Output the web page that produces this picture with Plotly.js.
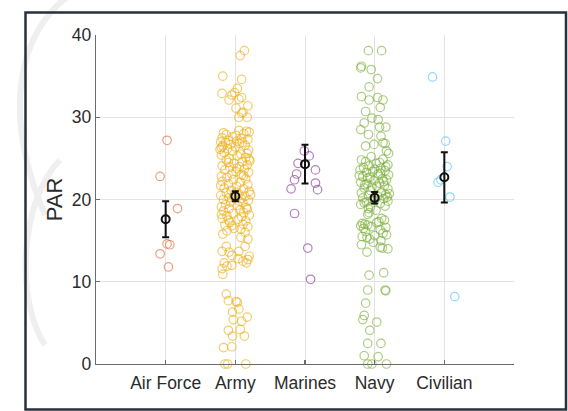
<!DOCTYPE html>
<html>
<head>
<meta charset="utf-8">
<script src="https://cdn.plot.ly/plotly-3.0.1.min.js"></script>
<style>
html,body{margin:0;padding:0;background:#fff;}
#chart{width:568px;height:411px;}
</style>
</head>
<body>
<div id="chart"></div>
<script>
// ---------- data ----------
const categories = ['Air Force', 'Army', 'Marines', 'Navy', 'Civilian'];

// [PAR value, horizontal jitter]
const airForcePoints = [[27.2,0.02],[22.8,-0.08],[18.9,0.17],[14.6,0.02],[14.5,0.06],[13.4,-0.08],[11.8,0.04]];

const armyPoints = [
 [38.1,0.13],[37.5,0.07],[35.0,-0.18],[34.6,0.09],[32.9,-0.19],[33.5,0.03],[33.0,-0.01],[32.7,-0.05],
 [32.1,-0.09],[32.4,0.09],[32.2,0.05],[31.4,0.18],[31.1,0.01],[30.6,0.11],[30.0,0.05],[30.0,0.17],[30.5,0.09],
 [28.3,0.16],[28.2,0.20],[28.4,0.05],[28.1,-0.17],[27.9,-0.13],[28.0,0.12],[27.6,-0.04],[27.5,-0.19],
 [27.4,0.09],[27.2,-0.10],[27.1,0.02],[27.0,-0.21],[26.9,-0.14],[26.8,0.06],[26.7,-0.07],[26.6,0.14],
 [26.5,-0.18],[26.4,0.00],[26.2,-0.11],[26.0,0.19],[25.9,-0.04],[25.7,-0.16],[25.5,0.08],[25.4,-0.20],
 [25.3,0.03],[25.1,0.15],[25.0,-0.09],[24.9,0.20],[24.8,-0.13],[24.6,0.10],[24.4,-0.02],[24.2,0.17],
 [24.1,-0.19],[24.0,0.06],[23.9,-0.08],[23.7,0.13],[23.6,-0.15],[23.4,0.01],[23.3,0.19],[23.1,-0.05],
 [23.0,0.09],[22.8,-0.20],[22.7,-0.12],[22.5,0.15],[22.4,-0.03],[22.2,-0.19],[22.1,0.07],[21.9,-0.10],
 [21.8,0.18],[21.6,0.02],[21.4,-0.16],[21.3,0.12],[21.1,-0.06],[21.0,0.20],[20.8,-0.13],[20.7,0.05],
 [20.5,-0.21],[20.4,0.14],[20.3,-0.02],[20.1,0.09],[20.0,-0.17],[19.9,0.19],[19.7,-0.07],[19.6,0.11],
 [19.4,-0.14],[19.3,0.03],[19.1,-0.20],[19.0,0.16],[18.9,-0.09],[18.7,0.07],[18.6,-0.17],[18.4,0.12],
 [18.3,-0.03],[18.1,0.20],[18.0,-0.12],[17.9,0.09],[17.7,-0.19],[17.6,0.04],[17.4,0.15],[17.2,-0.08],
 [17.0,0.11],[16.9,-0.15],[16.7,0.18],[16.5,-0.02],[16.4,0.08],[16.2,-0.12],[16.0,0.14],[15.8,-0.18],
 [27.3,0.18],[26.9,0.10],[26.3,-0.20],[27.8,0.01],[25.6,0.17],[24.5,-0.10],[23.8,0.02],[22.9,0.12],
 [21.7,-0.21],[20.9,0.01],[20.2,-0.09],[19.8,0.06],[18.8,0.17],[18.2,-0.20],[17.5,-0.10],[16.8,-0.05],
 [20.6,0.22],[24.7,0.21],[26.1,-0.22],
 [15.4,0.08],[15.2,0.18],[14.3,-0.13],[14.3,0.14],[13.7,-0.19],[13.6,-0.09],[13.7,0.05],[13.2,-0.05],
 [13.1,0.20],[12.8,0.04],[12.7,0.18],[12.5,0.11],[12.3,-0.16],[12.3,0.16],[12.0,-0.05],[11.9,-0.12],
 [11.6,-0.19],[10.9,-0.18],
 [8.5,-0.13],[7.7,-0.10],[7.6,0.01],[7.5,0.03],[6.7,0.05],[6.3,-0.04],[5.7,0.17],[5.4,-0.03],[5.2,0.09],
 [4.2,0.07],[4.1,-0.10],[3.4,-0.04],[3.4,0.13],[2.1,-0.05],[2.0,-0.17],[0,-0.15],[0,-0.11],[0,0.15]
];

const marinesPoints = [[25.9,-0.01],[25.3,0.06],[24.4,-0.10],[23.6,0.15],[23.1,-0.12],[22.4,-0.15],
 [22.0,0.15],[21.3,-0.20],[21.2,0.18],[18.3,-0.15],[14.1,0.04],[10.3,0.08]];

const navyPoints = [
 [38.1,-0.09],[38.1,0.10],[36.2,-0.19],[36.0,-0.20],[35.8,-0.05],[34.7,0.04],[33.7,-0.08],[32.5,-0.19],
 [32.4,0.04],[32.1,0.12],[32.1,-0.08],[31.2,0.08],[30.7,-0.13],[29.9,-0.04],[29.7,0.05],[29.3,-0.15],
 [28.8,0.07],[28.8,0.16],[28.5,-0.20],[27.9,-0.09],[27.7,0.09],[26.9,0.12],[26.8,0.15],[26.7,-0.01],
 [26.5,-0.13],[25.9,0.17],[25.6,0.20],
 [25.2,-0.05],[24.9,0.12],[24.8,-0.19],[24.6,-0.13],[24.4,0.02],[24.2,0.19],[24.1,-0.08],[23.9,-0.16],
 [23.8,0.09],[23.6,-0.21],[23.5,0.15],[23.4,-0.03],[23.3,-0.12],[23.1,0.05],[23.0,0.20],[22.8,-0.17],
 [22.7,-0.07],[22.5,0.11],[22.4,0.17],[22.3,-0.01],[22.1,-0.20],[22.0,0.07],[21.9,-0.11],[21.7,0.14],
 [21.6,0.03],[21.4,-0.15],[21.3,0.19],[21.1,-0.06],[20.9,0.10],[20.8,-0.19],[20.6,0.16],[20.5,-0.09],
 [20.4,0.04],[20.2,-0.17],[20.1,0.13],[20.0,-0.03],[19.8,0.19],[19.7,-0.12],[19.5,0.08],[19.4,-0.20],
 [19.2,0.15],[19.1,-0.06],[18.9,-0.09],[18.7,0.02],[18.4,-0.08],[18.2,-0.10],[17.7,0.10],[17.5,0.14],
 [17.3,0.06],[17.1,-0.18],[17.0,-0.14],[16.9,-0.10],[16.8,-0.20],[16.6,0.16],[16.5,-0.16],[16.3,0.08],
 [16.1,-0.13],[15.9,0.12],[15.7,0.17],[15.5,-0.18],[15.4,-0.11],[15.2,-0.07],[15.0,0.09],[14.8,-0.02],
 [14.5,-0.19],[14.2,0.08],[14.1,0.11],[14.0,0.19],[13.6,-0.11],
 [24.5,0.07],[23.7,0.00],[22.9,-0.22],[22.2,0.13],[21.5,-0.04],[20.7,0.21],[19.9,0.00],[21.8,-0.14],
 [23.2,0.08],[24.0,0.16],[22.6,-0.10],[20.3,0.18],[19.6,-0.15],[16.7,-0.05],[17.2,0.03],[15.6,0.00],
 [10.8,-0.08],[11.1,0.13],[9.0,-0.10],[9.0,0.15],[8.9,0.16],[7.4,-0.13],[5.9,-0.15],[5.4,-0.17],
 [5.1,0.03],[4.1,-0.07],[2.5,-0.10],[2.5,0.09],[1.0,-0.15],[0.9,0.05],[0,-0.10],[0,-0.04],[0,0.17]
];

const civilianPoints = [[34.9,-0.17],[27.1,0.02],[24.0,0.04],[22.1,-0.09],[22.4,-0.05],[20.3,0.08],[8.2,0.15]];

const groupMeans  = [17.6, 20.4, 24.3, 20.2, 22.7];
const groupErrors = [2.2, 0.6, 2.35, 0.7, 3.05];
const yTicks = [0, 10, 20, 30, 40];

// ---------- drawing ----------
const groupPoints = [airForcePoints, armyPoints, marinesPoints, navyPoints, civilianPoints];
const groupColors = [
  'rgba(217,83,25,0.55)',
  'rgba(237,177,32,0.65)',
  'rgba(126,47,142,0.6)',
  'rgba(119,172,48,0.6)',
  'rgba(77,190,238,0.6)'
];

const traces = groupPoints.map((pts, i) => ({
  type: 'scatter',
  mode: 'markers',
  x: pts.map(p => i + 1 + p[1]),
  y: pts.map(p => p[0]),
  cliponaxis: false,
  hoverinfo: 'y',
  marker: {symbol: 'circle-open', size: 8.5, color: groupColors[i], line: {width: 1.2, color: groupColors[i]}},
  showlegend: false
}));

traces.push({
  type: 'scatter',
  mode: 'markers',
  x: categories.map((c, i) => i + 1),
  y: groupMeans,
  cliponaxis: false,
  error_y: {type: 'data', array: groupErrors, visible: true, color: '#111', thickness: 2, width: 3.5},
  marker: {symbol: 'circle-open', size: 8, color: '#111', line: {width: 2, color: '#111'}},
  showlegend: false
});

// helpers to place decorations in pixel terms
const L = 96, R = 54, T = 35, B = 47, W = 568, H = 411;
const pw = W - L - R, ph = H - T - B;
const px = v => (v - L) / pw;
const py = v => (H - B - v) / ph;

function arcPath(pts) {
  let s = 'M ' + px(pts[0][0]) + ',' + py(pts[0][1]);
  for (let k = 1; k + 2 < pts.length + 1; k += 3) {
    s += ' C ' + pts.slice(k, k + 3).map(p => px(p[0]) + ',' + py(p[1])).join(' ');
  }
  return s;
}

const shapes = [
  // faint decorative arcs at the left edge
  {type: 'path', xref: 'paper', yref: 'paper', layer: 'below',
   path: arcPath([[70,-5],[20,30],[0,110],[45,215]]),
   line: {color: '#efefef', width: 6}},
  {type: 'path', xref: 'paper', yref: 'paper', layer: 'below',
   path: arcPath([[60,160],[20,200],[15,300],[45,345]]),
   line: {color: '#efefef', width: 6}},
  // frame
  {type: 'rect', xref: 'paper', yref: 'paper', layer: 'above',
   x0: px(25.5), x1: px(566), y0: py(12.5), y1: py(409.5),
   line: {color: '#27313e', width: 2.5}, fillcolor: 'rgba(0,0,0,0)'}
];

const layout = {
  width: W, height: H,
  margin: {l: L, r: R, t: T, b: B, pad: 0},
  paper_bgcolor: 'rgba(0,0,0,0)',
  plot_bgcolor: 'rgba(0,0,0,0)',
  font: {family: '"Liberation Sans", Arial, sans-serif', color: '#2b2b2b', size: 17.5},
  xaxis: {
    range: [0, 6], tickvals: [1, 2, 3, 4, 5], ticktext: categories,
    showgrid: true, gridcolor: '#e3e3e3', gridwidth: 1, zeroline: false,
    showline: true, linecolor: '#6b6b6b', linewidth: 1.3,
    ticks: 'inside', ticklen: 4, tickcolor: '#6b6b6b', tickwidth: 1.3,
    ticklabelstandoff: 3,
    tickfont: {size: 17.5, color: '#2b2b2b'}, fixedrange: true
  },
  yaxis: {
    range: [0, 40], tickvals: yTicks,
    showgrid: true, gridcolor: '#e3e3e3', gridwidth: 1, zeroline: false,
    showline: true, linecolor: '#6b6b6b', linewidth: 1.3,
    ticks: 'inside', ticklen: 4, tickcolor: '#6b6b6b', tickwidth: 1.3,
    tickfont: {size: 17.5, color: '#2b2b2b'},
    title: {text: 'PAR', font: {size: 22, color: '#2b2b2b'}, standoff: 3}, fixedrange: true
  },
  shapes: shapes
};

Plotly.newPlot('chart', traces, layout, {displayModeBar: false, staticPlot: true});
</script>
</body>
</html>
